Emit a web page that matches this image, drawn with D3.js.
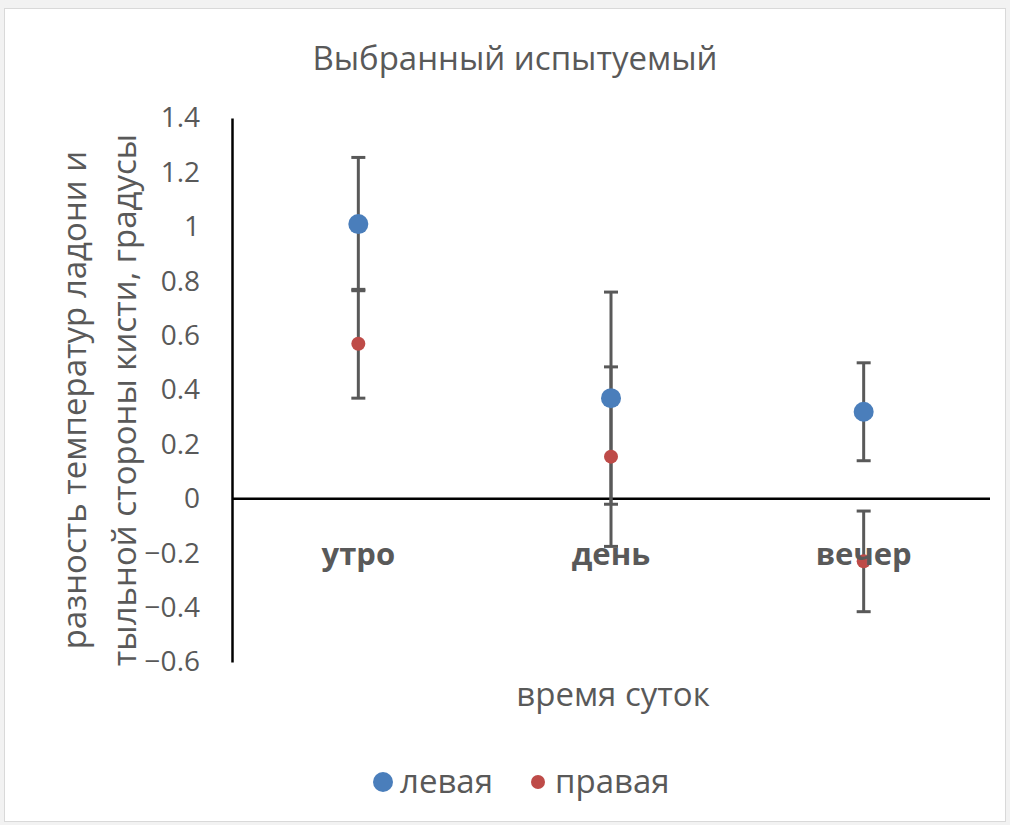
<!DOCTYPE html>
<html>
<head>
<meta charset="utf-8">
<script src="https://cdn.jsdelivr.net/npm/d3@7"></script>
<style>
  body { margin: 0; background: #fff; }
  text { font-family: "Open Sans", "Noto Sans", sans-serif; fill: #595959; }
</style>
</head>
<body>
<script>
var categories = ["утро", "день", "вечер"];
var seriesNames = ["левая", "правая"];
var leftValues = [1.01, 0.37, 0.32];
var leftErrors = [0.245, 0.39, 0.18];
var rightValues = [0.57, 0.155, -0.23];
var rightErrors = [0.2, 0.33, 0.185];
var yTicks = [-0.6, -0.4, -0.2, 0, 0.2, 0.4, 0.6, 0.8, 1, 1.2, 1.4];

var width = 1010;
var height = 825;
var margin = ({ top: 118, right: 20, bottom: 165, left: 232 });

var svg = d3.select("body").append("svg")
    .attr("width", width)
    .attr("height", height);

// gray strip and chart frame
svg.append("rect")
    .attr("x", 0).attr("y", 0)
    .attr("width", width).attr("height", height)
    .attr("fill", "#f2f2f2");
svg.append("rect")
    .attr("x", 4.5).attr("y", 8.5)
    .attr("width", width - 9).attr("height", height - 12)
    .attr("fill", "#fff")
    .attr("stroke", "#d9d9d9");

var x = d3.scaleBand()
    .domain(categories)
    .range([margin.left, width - margin.right]);

var y = d3.scaleLinear()
    .domain([-0.6, 1.4])
    .range([height - margin.bottom + 2, margin.top]);

// y axis
var yAxis = g => g
    .attr("transform", `translate(${margin.left},0)`)
    .call(d3.axisLeft(y).tickValues(yTicks).tickSize(0).tickPadding(32)
        .tickFormat(d => d3.format("")(+d.toFixed(1))))
    .call(g => g.select(".domain").attr("stroke", "#000").attr("stroke-width", 2.5))
    .call(g => g.selectAll("text")
        .attr("font-size", 28)
        .attr("font-family", "\"Open Sans\", sans-serif")
        .attr("fill", "#595959"));

svg.append("g").call(yAxis);

// zero line
svg.append("line")
    .attr("x1", margin.left).attr("x2", width - margin.right)
    .attr("y1", y(0)).attr("y2", y(0))
    .attr("stroke", "#000")
    .attr("stroke-width", 2.5);

var series = [
    { name: seriesNames[0], values: leftValues, errors: leftErrors, color: "#4a7ebb", r: 10 },
    { name: seriesNames[1], values: rightValues, errors: rightErrors, color: "#be4b48", r: 7 }
];

// error bars
series.forEach(function (s) {
    var g = svg.append("g").attr("stroke", "#595959").attr("stroke-width", 3);
    categories.forEach(function (c, i) {
        var cx = x(c) + x.bandwidth() / 2;
        var hi = y(s.values[i] + s.errors[i]);
        var lo = y(s.values[i] - s.errors[i]);
        g.append("line").attr("x1", cx).attr("x2", cx).attr("y1", hi).attr("y2", lo);
        g.append("line").attr("x1", cx - 7).attr("x2", cx + 7).attr("y1", hi).attr("y2", hi);
        g.append("line").attr("x1", cx - 7).attr("x2", cx + 7).attr("y1", lo).attr("y2", lo);
    });
});

// points
series.forEach(function (s) {
    svg.append("g")
        .attr("fill", s.color)
        .selectAll("circle")
        .data(s.values)
        .enter()
        .append("circle")
        .attr("cx", (d, i) => x(categories[i]) + x.bandwidth() / 2)
        .attr("cy", d => y(d))
        .attr("r", s.r);
});

// category labels
svg.append("g")
    .selectAll("text")
    .data(categories)
    .enter()
    .append("text")
    .attr("x", d => x(d) + x.bandwidth() / 2)
    .attr("y", y(0) + 66)
    .attr("text-anchor", "middle")
    .attr("font-size", 31)
    .attr("font-weight", "bold")
    .text(d => d);

// title
svg.append("text")
    .attr("x", 515).attr("y", 70)
    .attr("text-anchor", "middle")
    .attr("font-size", 33)
    .text("Выбранный испытуемый");

// axis titles
svg.append("text")
    .attr("x", 613).attr("y", 706)
    .attr("text-anchor", "middle")
    .attr("font-size", 33)
    .text("время суток");

var yTitle = svg.append("text")
    .attr("transform", "translate(0,400) rotate(-90)")
    .attr("text-anchor", "middle")
    .attr("font-size", 33);
yTitle.append("tspan").attr("x", 0).attr("y", 86).text("разность температур ладони и");
yTitle.append("tspan").attr("x", 0).attr("y", 136).text("тыльной стороны кисти, градусы");

// legend
var legend = svg.append("g");
var legendX = [383, 538];
series.forEach(function (s, i) {
    legend.append("circle")
        .attr("cx", legendX[i]).attr("cy", 782)
        .attr("r", s.r)
        .attr("fill", s.color);
    legend.append("text")
        .attr("x", legendX[i] + 17).attr("y", 793)
        .attr("font-size", 33)
        .text(s.name);
});
</script>
</body>
</html>
